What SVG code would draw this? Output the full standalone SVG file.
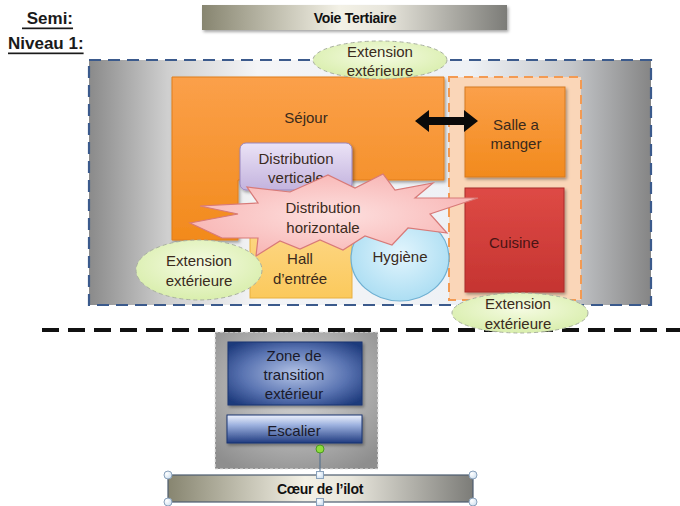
<svg xmlns="http://www.w3.org/2000/svg" width="680" height="506" viewBox="0 0 680 506">
<defs>
<linearGradient id="gMain" x1="0" y1="0" x2="1" y2="0">
<stop offset="0" stop-color="#8a8a8a"/><stop offset="0.14" stop-color="#cfcfcf"/><stop offset="0.3" stop-color="#f4f5f7"/><stop offset="0.68" stop-color="#eef1f5"/><stop offset="0.86" stop-color="#c4c6c9"/><stop offset="1" stop-color="#858585"/>
</linearGradient>
<linearGradient id="gBar" x1="0" y1="0" x2="1" y2="0">
<stop offset="0" stop-color="#878570"/><stop offset="0.45" stop-color="#f3f1e6"/><stop offset="0.6" stop-color="#e8e6dc"/><stop offset="1" stop-color="#7c7c78"/>
</linearGradient>
<linearGradient id="gOrange" x1="0" y1="0" x2="0" y2="1">
<stop offset="0" stop-color="#fba04a"/><stop offset="1" stop-color="#f28a1c"/>
</linearGradient>
<linearGradient id="gRed" x1="0" y1="0" x2="0" y2="1">
<stop offset="0" stop-color="#de4a45"/><stop offset="1" stop-color="#c53431"/>
</linearGradient>
<linearGradient id="gLav" x1="0" y1="0" x2="0" y2="1">
<stop offset="0" stop-color="#ebe3f6"/><stop offset="1" stop-color="#c3b3de"/>
</linearGradient>
<linearGradient id="gHall" x1="0" y1="0" x2="0" y2="1">
<stop offset="0" stop-color="#fdd889"/><stop offset="1" stop-color="#fbc95c"/>
</linearGradient>
<radialGradient id="gBlue" cx="0.5" cy="0.45" r="0.6">
<stop offset="0" stop-color="#e2f5fd"/><stop offset="1" stop-color="#a8dcf2"/>
</radialGradient>
<radialGradient id="gGreen" cx="0.5" cy="0.4" r="0.6">
<stop offset="0" stop-color="#f5fbe2"/><stop offset="1" stop-color="#d9eead"/>
</radialGradient>
<radialGradient id="gPink" cx="0.5" cy="0.5" r="0.55">
<stop offset="0" stop-color="#fde0df"/><stop offset="1" stop-color="#f8b5b4"/>
</radialGradient>
<radialGradient id="gZone" cx="0.5" cy="0.4" r="0.7">
<stop offset="0" stop-color="#dcdcdc"/><stop offset="1" stop-color="#8e8e8e"/>
</radialGradient>
<radialGradient id="gDark" cx="0.5" cy="0.5" r="0.65">
<stop offset="0" stop-color="#b3c3e6"/><stop offset="0.6" stop-color="#5a74b2"/><stop offset="1" stop-color="#1d3a7c"/>
</radialGradient>
<linearGradient id="gEsc" x1="0" y1="0" x2="0" y2="1">
<stop offset="0" stop-color="#eef2fc"/><stop offset="0.35" stop-color="#9fb3e0"/><stop offset="1" stop-color="#1f3b80"/>
</linearGradient>
<radialGradient id="gHandle" cx="0.35" cy="0.35" r="0.7">
<stop offset="0" stop-color="#ffffff"/><stop offset="1" stop-color="#cfe0f0"/>
</radialGradient>
<filter id="sh" x="-10%" y="-10%" width="130%" height="130%">
<feDropShadow dx="1.5" dy="2" stdDeviation="1.5" flood-color="#000" flood-opacity="0.35"/>
</filter>
</defs>
<style>
text{font-family:"Liberation Sans",Arial,sans-serif;font-size:15px;fill:#3a2a1c;text-anchor:middle;dominant-baseline:central}
.b{font-weight:bold;font-size:14px;fill:#111;letter-spacing:-0.3px}
.t{font-weight:bold;font-size:17px;fill:#1a1a1a;text-anchor:start;text-decoration:underline}
.ext{fill:url(#gGreen);stroke:#a9b0a0;stroke-width:1;stroke-dasharray:4 3}
.bl{fill:#1a1a2a}
</style>

<g id="title">
<text class="t" x="22" y="18" xml:space="preserve"> Semi:</text>
<text class="t" x="8" y="43">Niveau 1:</text>
</g>

<g id="voie-tertiaire">
<rect x="202" y="5" width="305" height="25" fill="url(#gBar)" filter="url(#sh)"/>
<text class="b" x="355" y="18">Voie Tertiaire</text>
</g>

<g id="niveau1">
<rect x="89" y="60" width="562" height="245" fill="url(#gMain)" stroke="#3b5a8c" stroke-width="2.2" stroke-dasharray="12 7"/>
</g>

<g id="zone-cuisine">
<rect x="449" y="77" width="132" height="223" fill="#fad6b8" stroke="#f39a52" stroke-width="2" stroke-dasharray="9 6"/>
</g>

<g id="sejour">
<path d="M172,77 H444 V180 H238 V240 H172 Z" fill="url(#gOrange)" stroke="#e07d1c" stroke-width="1" filter="url(#sh)"/>
<text x="306" y="117">Séjour</text>
</g>

<g id="distribution-verticale">
<rect x="240" y="143" width="112" height="47" rx="6" fill="url(#gLav)" stroke="#9a86c0" stroke-width="1" filter="url(#sh)"/>
<text x="296" y="158">Distribution</text>
<text x="296" y="177">verticale</text>
</g>

<g id="salle-a-manger">
<rect x="465" y="87" width="100" height="90" fill="url(#gOrange)" stroke="#d67a20" stroke-width="1" filter="url(#sh)"/>
<text x="516" y="124">Salle a</text>
<text x="516" y="143">manger</text>
</g>

<g id="cuisine">
<rect x="465" y="188" width="99" height="104" fill="url(#gRed)" stroke="#a82c2a" stroke-width="1" filter="url(#sh)"/>
<text x="514" y="242" style="fill:#4a1414">Cuisine</text>
</g>

<g id="hall-entree">
<rect x="250" y="222" width="102" height="76" fill="url(#gHall)" stroke="#e8b040" stroke-width="1"/>
</g>

<g id="hygiene">
<ellipse cx="400" cy="258" rx="49" ry="43" fill="url(#gBlue)" stroke="#6fb0d2" stroke-width="1.2"/>
</g>

<g id="distribution-horizontale">
<polygon points="190,223 238,214 200,206 258,203 247,187 290,192 328,175 355,188 383,174 395,190 433,183 415,198 478,198 430,214 447,233 408,228 392,245 365,236 343,250 320,240 300,249 280,241 256,256 258,238 222,238" fill="url(#gPink)" stroke="#d87a78" stroke-width="1.2"/>
<text x="323" y="207">Distribution</text>
<text x="323" y="227">horizontale</text>
</g>

<g id="hall-entree-label">
<text x="300" y="258">Hall</text>
<text x="300" y="278">d’entrée</text>
</g>

<g id="hygiene-label">
<text x="400" y="256">Hygiène</text>
</g>

<g id="extension-gauche">
<ellipse class="ext" cx="199" cy="270" rx="63" ry="30"/>
<text x="199" y="260">Extension</text>
<text x="199" y="280">extérieure</text>
</g>

<g id="extension-haut">
<ellipse class="ext" cx="380" cy="60" rx="67" ry="19"/>
<text x="380" y="51">Extension</text>
<text x="380" y="70">extérieure</text>
</g>

<g id="zone-transition-groupe">
<rect x="215" y="332" width="163" height="137" fill="url(#gZone)" stroke="#e8e8e8" stroke-width="1.2" stroke-dasharray="3 2"/>
</g>

<g id="limite">
<line x1="42" y1="330" x2="680" y2="330" stroke="#111" stroke-width="4" stroke-dasharray="17 9"/>
</g>

<g id="extension-droite">
<ellipse class="ext" cx="520" cy="313" rx="68" ry="20"/>
<text x="518" y="303">Extension</text>
<text x="518" y="323">extérieure</text>
</g>

<g id="zone-transition">
<rect x="228" y="342" width="134" height="63" fill="url(#gDark)" stroke="#1b3470" stroke-width="1" filter="url(#sh)"/>
<text class="bl" x="294" y="355">Zone de</text>
<text class="bl" x="294" y="374">transition</text>
<text class="bl" x="294" y="393">extérieur</text>
</g>

<g id="escalier">
<rect x="227" y="415" width="135" height="28" fill="url(#gEsc)" stroke="#1b3470" stroke-width="1" filter="url(#sh)"/>
<text class="bl" x="294" y="430">Escalier</text>
</g>

<g id="connectors">
<polygon points="415,121 429,110 429,117 464,117 464,110 478,121 464,132 464,125 429,125 429,132" fill="#0a0a0a"/>
<line x1="320" y1="449" x2="320" y2="475" stroke="#4a6a8a" stroke-width="1"/>
<circle cx="320" cy="449" r="4" fill="#8edc3c" stroke="#4a9a20" stroke-width="1"/>
</g>

<g id="coeur-ilot">
<rect x="168" y="475" width="305" height="27" fill="url(#gBar)" stroke="#4d5d70" stroke-width="1.2"/>
<text class="b" x="320" y="489">Cœur de l’ilot</text>
<circle cx="168" cy="475" r="4" fill="url(#gHandle)" stroke="#8aa2bc" stroke-width="1"/>
<circle cx="473" cy="475" r="4" fill="url(#gHandle)" stroke="#8aa2bc" stroke-width="1"/>
<circle cx="168" cy="502" r="4" fill="url(#gHandle)" stroke="#8aa2bc" stroke-width="1"/>
<circle cx="473" cy="502" r="4" fill="url(#gHandle)" stroke="#8aa2bc" stroke-width="1"/>
<rect x="316.5" y="471.5" width="7" height="7" fill="url(#gHandle)" stroke="#8aa2bc" stroke-width="1"/>
<rect x="316.5" y="498.5" width="7" height="7" fill="url(#gHandle)" stroke="#8aa2bc" stroke-width="1"/>
</g>
</svg>
